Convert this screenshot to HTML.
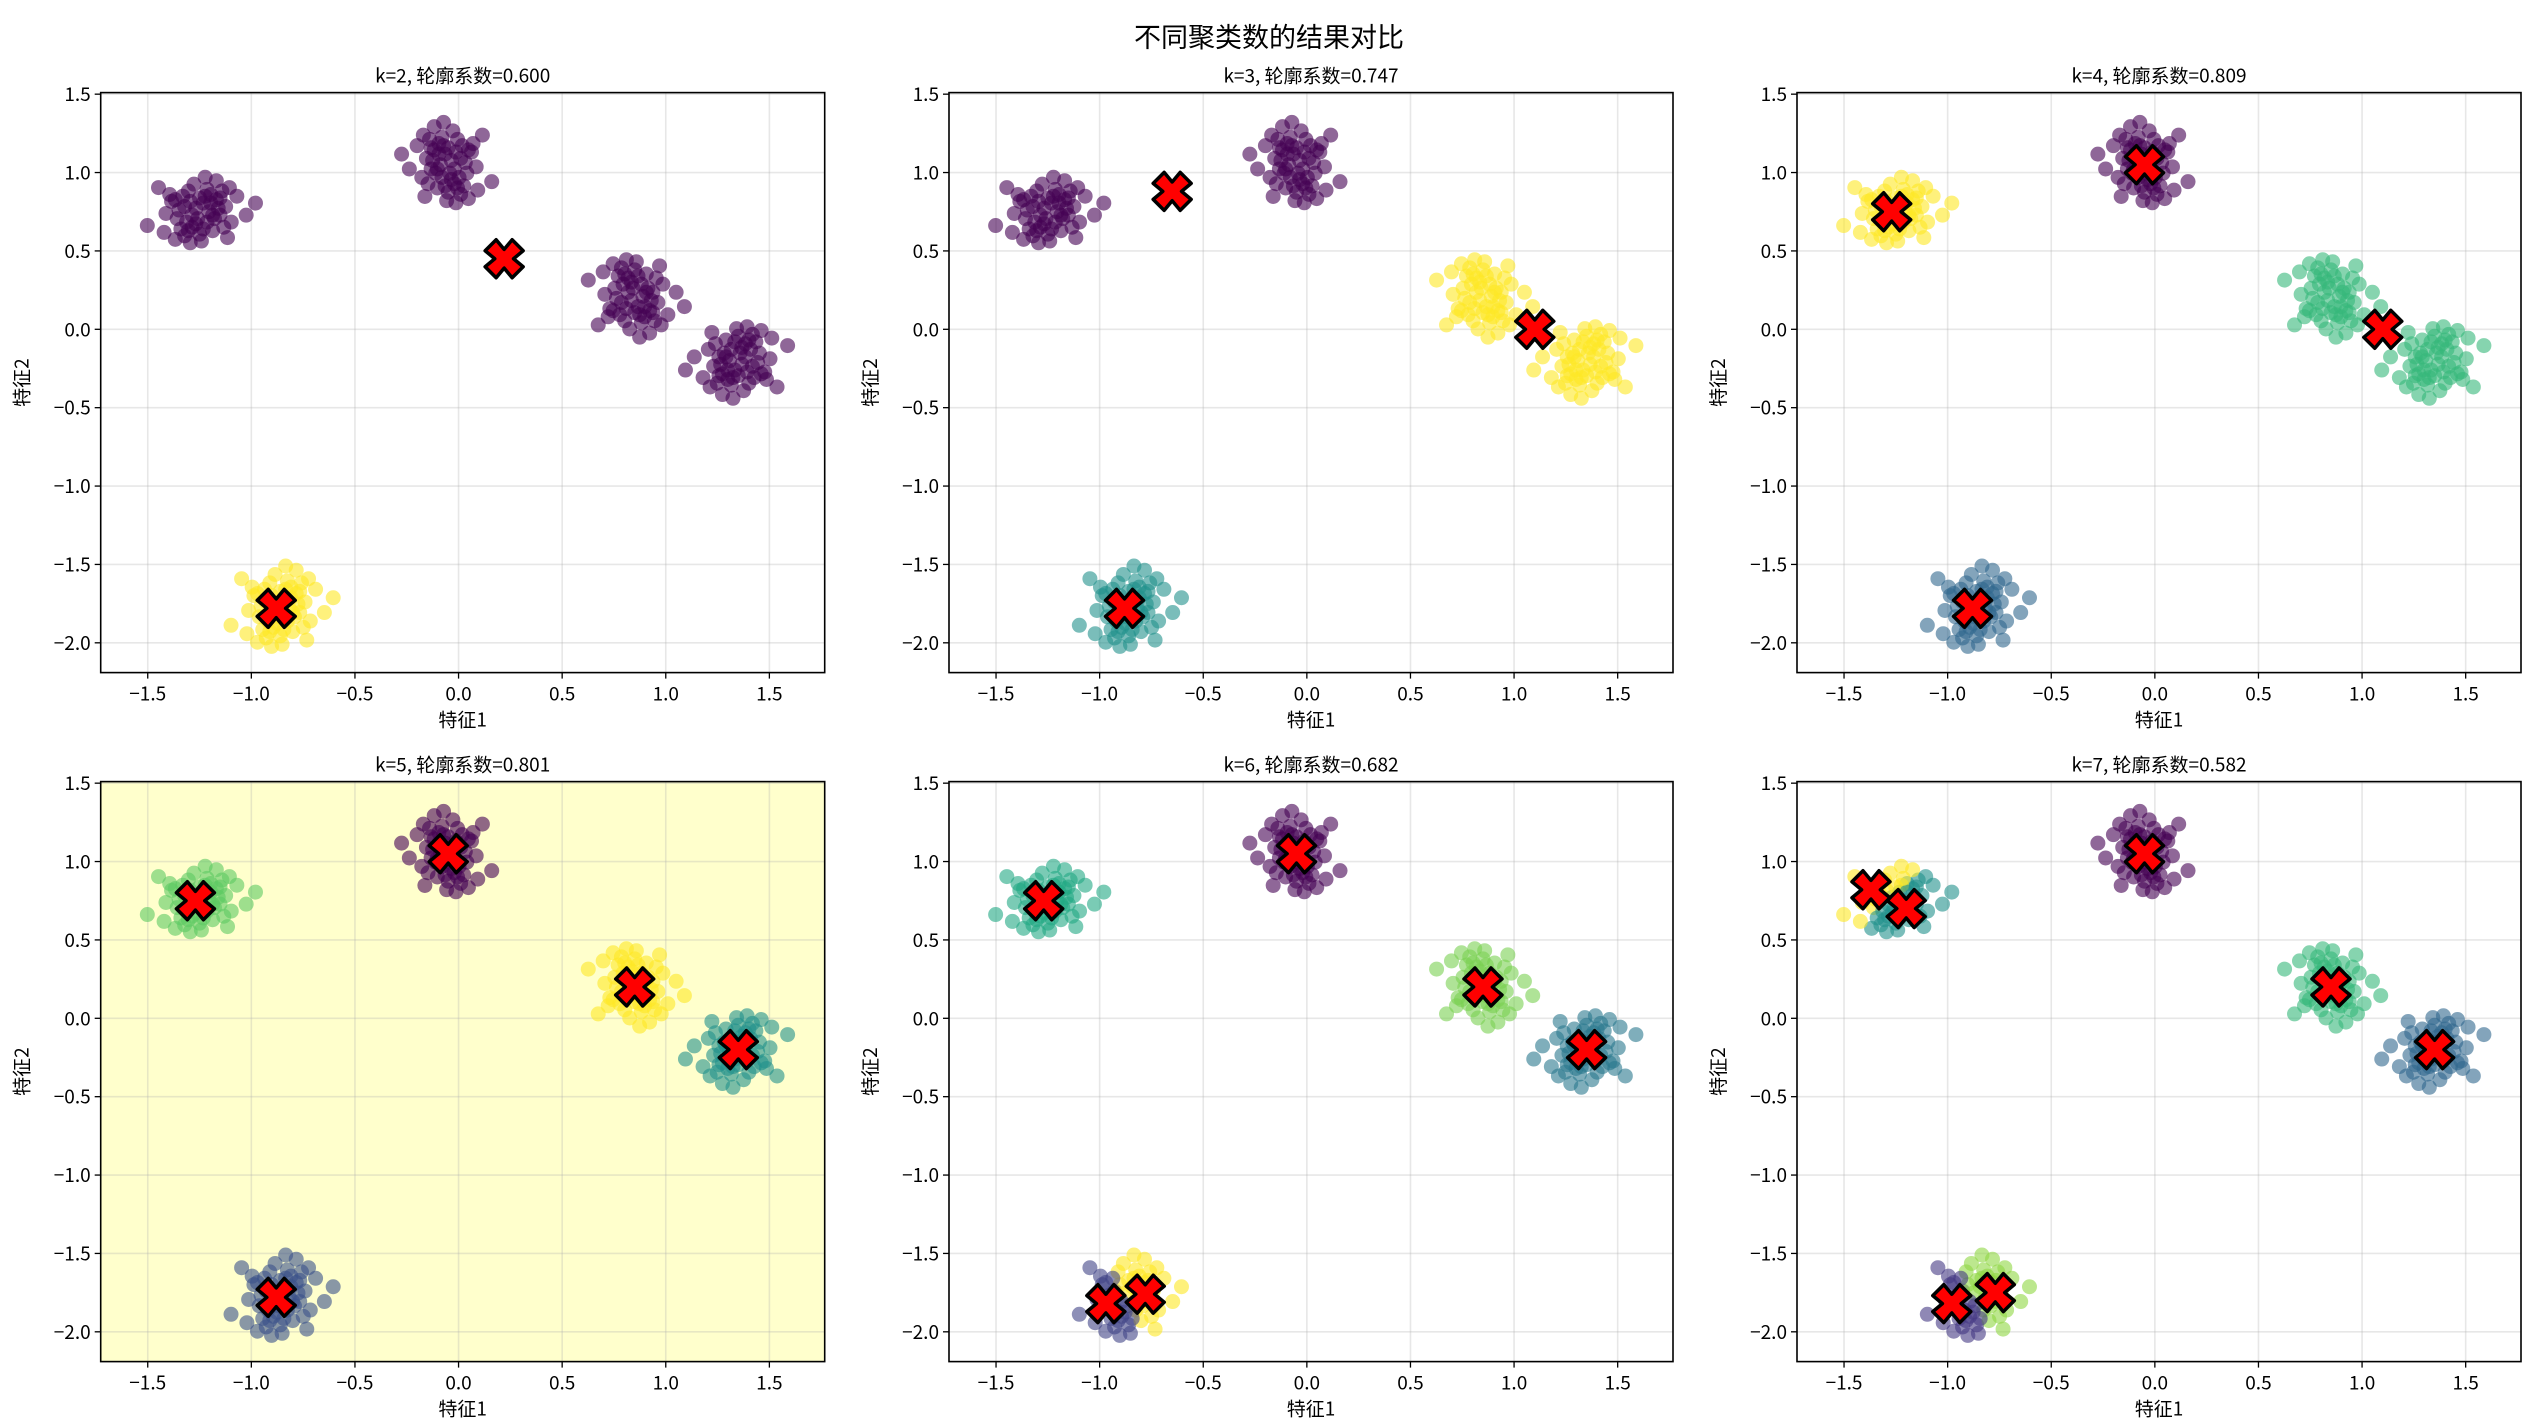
<!DOCTYPE html>
<html><head><meta charset="utf-8">
<style>
html,body{margin:0;padding:0;background:#fff;}
body{width:2538px;height:1422px;overflow:hidden;font-family:"Liberation Sans","WenQuanYi Zen Hei","Noto Sans CJK SC",sans-serif;}
svg text{font-family:"WenQuanYi Zen Hei","Noto Sans CJK SC",sans-serif;}
</style></head>
<body>
<svg id="fig" width="2538" height="1422" xmlns="http://www.w3.org/2000/svg">
<text x="1269" y="47" font-size="27" text-anchor="middle" fill="#000">不同聚类数的结果对比</text>
</svg>
<script>
// ---- data ----
const xTicks = [-1.5,-1.0,-0.5,0.0,0.5,1.0,1.5];
const yTicks = [1.5,1.0,0.5,0.0,-0.5,-1.0,-1.5,-2.0];
const xTickLabels = ["−1.5","−1.0","−0.5","0.0","0.5","1.0","1.5"];
const yTickLabels = ["1.5","1.0","0.5","0.0","−0.5","−1.0","−1.5","−2.0"];
const blobCenters = [[-1.25,0.75],[-0.05,1.05],[0.85,0.21],[1.35,-0.2],[-0.86,-1.78]];
const blobFlips = [[1,1],[-1,1],[1,-1],[-1,-1],[1,1]];
const blobSpreadX = [0.9,0.75,0.8,0.85,0.85];
const blobSpreadY = [1.1,1.35,1.3,1.2,1.35];
const offsets = [[0.02,0.05],[-0.08,0.03],[0.11,-0.02],[-0.04,-0.09],[0.06,0.1],[-0.12,-0.04],[0.09,0.07],[0.0,-0.13],[-0.06,0.12],[0.14,0.03],[-0.15,0.06],[0.04,-0.06],[-0.02,0.02],[0.07,-0.11],[-0.1,-0.1],[0.12,0.12],[-0.03,0.16],[0.17,-0.06],[-0.18,-0.01],[0.01,-0.17],[0.05,0.0],[-0.05,0.06],[0.08,-0.04],[-0.09,0.09],[0.03,0.09],[-0.01,-0.04],[0.1,0.02],[-0.07,-0.06],[0.2,0.09],[-0.22,0.14],[0.15,-0.15],[-0.13,-0.16],[0.25,-0.02],[0.0,0.08],[-0.04,-0.02],[0.06,0.05],[-0.11,0.01],[0.13,-0.09],[0.02,-0.1],[-0.16,0.1],[0.3,0.05],[-0.28,-0.08],[0.09,0.18],[-0.08,-0.14],[0.04,0.13],[-0.02,-0.07],[0.11,0.08],[-0.13,0.07],[0.07,-0.02],[-0.06,-0.11],[0.03,0.2],[-0.05,-0.18],[0.16,0.14],[-0.19,-0.12]];
const panelTitles = ["k=2, 轮廓系数=0.600","k=3, 轮廓系数=0.747","k=4, 轮廓系数=0.809","k=5, 轮廓系数=0.801","k=6, 轮廓系数=0.682","k=7, 轮廓系数=0.582"];
const centersK2 = [[0.22,0.45],[-0.88,-1.78]];
const colorsK2 = ["#440154","#fde725"];
const centersK3 = [[-0.65,0.88],[1.1,0.0],[-0.88,-1.78]];
const colorsK3 = ["#440154","#fde725","#21918c"];
const centersK4 = [[-0.05,1.05],[-0.88,-1.78],[1.1,0.0],[-1.27,0.75]];
const colorsK4 = ["#440154","#31688e","#35b779","#fde725"];
const centersK5 = [[-0.05,1.05],[-0.88,-1.78],[1.35,-0.2],[-1.27,0.75],[0.85,0.2]];
const colorsK5 = ["#440154","#3b528b","#21918c","#5ec962","#fde725"];
const centersK6 = [[-0.05,1.05],[-0.97,-1.82],[1.35,-0.2],[-1.27,0.75],[0.85,0.2],[-0.78,-1.76]];
const colorsK6 = ["#440154","#414487","#2a788e","#22a884","#7ad151","#fde725"];
const centersK7 = [[-0.05,1.05],[-0.98,-1.82],[1.35,-0.2],[-1.2,0.7],[0.85,0.2],[-0.77,-1.75],[-1.37,0.82]];
const colorsK7 = ["#440154","#443983","#31688e","#21918c","#35b779","#90d743","#fde725"];
const panelCenters = [centersK2,centersK3,centersK4,centersK5,centersK6,centersK7];
const panelColors = [colorsK2,colorsK3,colorsK4,colorsK5,colorsK6,colorsK7];

// ---- layout ----
const NS="http://www.w3.org/2000/svg";
const fig=document.getElementById('fig');
const colL=[100.7,949,1797], rowT=[92.6,781.6], AW=724, AH=580;
const XMIN=-1.727,XMAX=1.767,YMIN=-2.19,YMAX=1.51;
function mk(tag,attrs,parent){const e=document.createElementNS(NS,tag);for(const k in attrs)e.setAttribute(k,attrs[k]);(parent||fig).appendChild(e);return e;}

const points=[];
blobCenters.forEach((c,b)=>{offsets.forEach(o=>{points.push([c[0]+o[0]*blobFlips[b][0]*blobSpreadX[b],c[1]+o[1]*blobFlips[b][1]*blobSpreadY[b]]);});});

for(let p=0;p<6;p++){
  const L=colL[p%3],T=rowT[Math.floor(p/3)];
  const sx=v=>L+(v-XMIN)/(XMAX-XMIN)*AW;
  const sy=v=>T+(YMAX-v)/(YMAX-YMIN)*AH;
  const g=mk('g',{});
  
  
  const bg=mk('rect',{x:L,y:T,width:AW,height:AH,fill:p===3?'#ffffcc':'#fff'},g);
  
  
  const clip=mk('clipPath',{id:'c'+p},g);mk('rect',{x:L,y:T,width:AW,height:AH},clip);
  xTicks.forEach((v,i)=>{
    const gl=mk('line',{x1:sx(v),x2:sx(v),y1:T,y2:T+AH,stroke:'#b0b0b0','stroke-opacity':0.3,'stroke-width':1.6},g);
    
    
    mk('line',{x1:sx(v),x2:sx(v),y1:T+AH,y2:T+AH+6,stroke:'#000','stroke-width':1.3},g);
    const t=mk('text',{x:sx(v),y:T+AH+28,'font-size':19,'text-anchor':'middle'},g);t.textContent=xTickLabels[i];
    
    
  });
  yTicks.forEach((v,i)=>{
    const gl=mk('line',{x1:L,x2:L+AW,y1:sy(v),y2:sy(v),stroke:'#b0b0b0','stroke-opacity':0.3,'stroke-width':1.6},g);
    
    
    mk('line',{x1:L-6,x2:L,y1:sy(v),y2:sy(v),stroke:'#000','stroke-width':1.3},g);
    const t=mk('text',{x:L-10,y:sy(v)+7,'font-size':19,'text-anchor':'end'},g);t.textContent=yTickLabels[i];
    
    
  });
  const pg=mk('g',{'clip-path':'url(#c'+p+')'},g);
  const cs=panelCenters[p],cols=panelColors[p];
  points.forEach(pt=>{
    let best=0,bd=1e9;cs.forEach((c,i)=>{const d=(c[0]-pt[0])**2+(c[1]-pt[1])**2;if(d<bd){bd=d;best=i;}});
    const c=mk('circle',{cx:sx(pt[0]),cy:sy(pt[1]),r:7.5,fill:cols[best],'fill-opacity':0.6},pg);
    
    
  });
  cs.forEach(c=>{
    const x=sx(c[0]),y=sy(c[1]),a=8,b=19;
    const d=`M${x-a},${y-b} L${x},${y-b+a*1.2} L${x+a},${y-b} L${x+b},${y-a} L${x+b-a*1.2},${y} L${x+b},${y+a} L${x+a},${y+b} L${x},${y+b-a*1.2} L${x-a},${y+b} L${x-b},${y+a} L${x-b+a*1.2},${y} L${x-b},${y-a} Z`;
    const m=mk('path',{d:d,fill:'#ff0000',stroke:'#000','stroke-width':3.5,'stroke-linejoin':'round'},g);
    
    
  });
  const fr=mk('rect',{x:L,y:T,width:AW,height:AH,fill:'none',stroke:'#000','stroke-width':1.6},g);
  
  
  const tt=mk('text',{x:L+AW/2,y:T-10,'font-size':19,'text-anchor':'middle'},g);tt.textContent=panelTitles[p];
  
  
  const xl=mk('text',{x:L+AW/2,y:T+AH+54,'font-size':19,'text-anchor':'middle'},g);xl.textContent='特征1';
  
  
  const yx=L-72,yy=T+AH/2;
  const yl=mk('text',{x:yx,y:yy,'font-size':19,'text-anchor':'middle',transform:`rotate(-90 ${yx} ${yy})`},g);yl.textContent='特征2';
  
  
}
</script>
</body></html>
